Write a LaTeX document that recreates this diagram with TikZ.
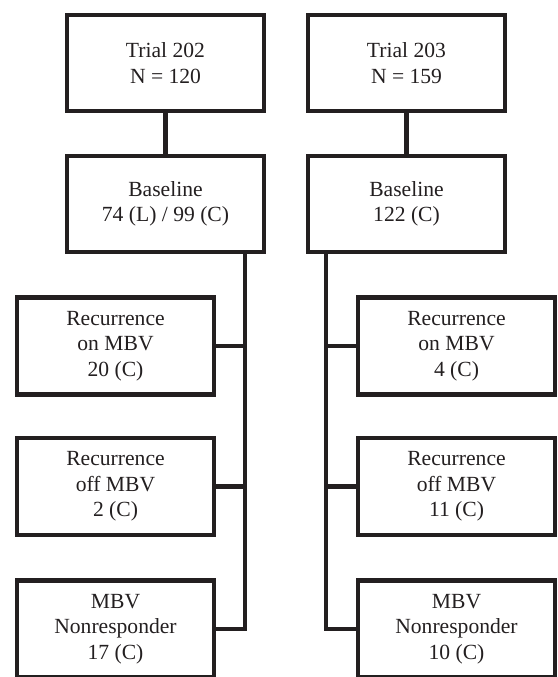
\documentclass[tikz,border=0pt]{standalone}
\usepackage{fontspec}
\setmainfont{Liberation Serif}
\definecolor{ink}{HTML}{231F20}
\begin{document}
\begin{tikzpicture}[x=1pt,y=-1pt,
  box/.style={draw=ink, line width=4.2pt, outer sep=0pt, inner sep=0pt,
    minimum width=197pt, align=center, text=ink, font=\fontsize{21.6}{25.5}\selectfont},
  topbox/.style={box, minimum height=96pt},
  kidbox/.style={box, minimum height=97pt},
  link/.style={draw=ink, line width=4.2pt}]
\useasboundingbox (0,0) rectangle (557,677);
% left column
\node[topbox] (t202) at (165.5,63) {Trial 202\\N = 120};
\node[topbox] (b202) at (165.5,204) {Baseline\\74 (L) / 99 (C)};
\node[kidbox] (on202) at (115.5,346) {Recurrence\\on MBV\\20 (C)};
\node[kidbox] (off202) at (115.5,486.5) {Recurrence\\off MBV\\2 (C)};
\node[kidbox] (nr202) at (115.5,629) {MBV\\Nonresponder\\17 (C)};
% right column
\node[topbox] (t203) at (406.5,63) {Trial 203\\N = 159};
\node[topbox] (b203) at (406.5,204) {Baseline\\122 (C)};
\node[kidbox] (on203) at (456.5,346) {Recurrence\\on MBV\\4 (C)};
\node[kidbox] (off203) at (456.5,486.5) {Recurrence\\off MBV\\11 (C)};
\node[kidbox] (nr203) at (456.5,629) {MBV\\Nonresponder\\10 (C)};
% spine anchors
\coordinate (sL) at (245,252);
\coordinate (sR) at (326,252);
% connectors
\draw[link] (t202.south) -- (b202.north);
\draw[link] (t203.south) -- (b203.north);
\draw[link] (sL) |- (nr202.east);
\draw[link] (on202.east) -- (sL |- on202.east);
\draw[link] (off202.east) -- (sL |- off202.east);
\draw[link] (sR) |- (nr203.west);
\draw[link] (on203.west) -- (sR |- on203.west);
\draw[link] (off203.west) -- (sR |- off203.west);
\end{tikzpicture}
\end{document}
